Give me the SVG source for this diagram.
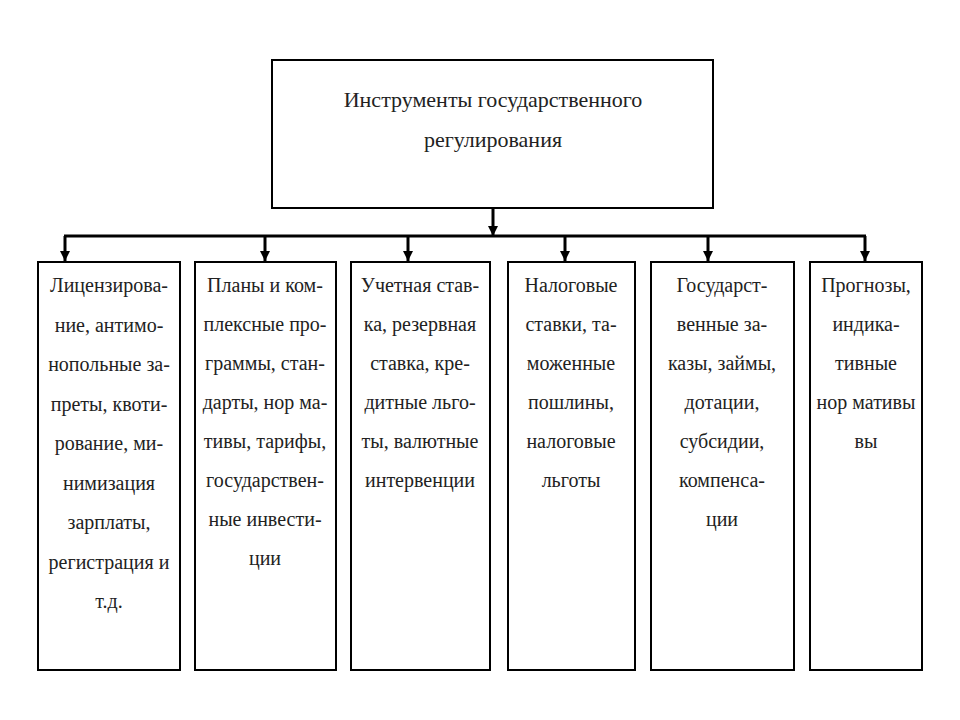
<svg xmlns="http://www.w3.org/2000/svg" width="960" height="720" viewBox="0 0 960 720">
<defs>
<marker id="ah" viewBox="0 0 10 10" refX="10" refY="5" markerWidth="10" markerHeight="10" markerUnits="userSpaceOnUse" orient="auto"><path d="M0,0 L10,5 L0,10 z" fill="#000"/></marker>
<style>
.b{fill:#fff;stroke:#000;stroke-width:2}
.t{font-family:"Liberation Serif",serif;font-size:20px;fill:#222;text-anchor:middle}
.h{font-size:22px}
.c{stroke:#000;stroke-width:3;fill:none}
</style>
</defs>
<rect width="960" height="720" fill="#fff"/>
<g id="connectors">
<line class="c" x1="493" y1="208" x2="493" y2="236" marker-end="url(#ah)"/>
<line class="c" x1="64" y1="236" x2="866" y2="236"/>
<line class="c" x1="65" y1="236" x2="65" y2="261" marker-end="url(#ah)"/>
<line class="c" x1="265" y1="236" x2="265" y2="261" marker-end="url(#ah)"/>
<line class="c" x1="408" y1="236" x2="408" y2="261" marker-end="url(#ah)"/>
<line class="c" x1="565" y1="236" x2="565" y2="261" marker-end="url(#ah)"/>
<line class="c" x1="708" y1="236" x2="708" y2="261" marker-end="url(#ah)"/>
<line class="c" x1="865" y1="236" x2="865" y2="261" marker-end="url(#ah)"/>
</g>
<g id="root"><rect class="b" x="272" y="60" width="441" height="148"/>
<text class="t h" x="493" y="107">Инструменты государственного</text>
<text class="t h" x="493" y="147">регулирования</text></g>
<g id="n1"><rect class="b" x="38" y="262" width="142" height="408"/>
<text class="t"><tspan x="109" y="292">Лицензирова-</tspan><tspan x="109" y="332">ние, антимо-</tspan><tspan x="109" y="371">нопольные за-</tspan><tspan x="109" y="411">преты, квоти-</tspan><tspan x="109" y="450">рование, ми-</tspan><tspan x="109" y="490">нимизация</tspan><tspan x="109" y="529">зарплаты,</tspan><tspan x="109" y="569">регистрация и</tspan><tspan x="109" y="608">т.д.</tspan></text></g>
<g id="n2"><rect class="b" x="195" y="262" width="141" height="408"/>
<text class="t"><tspan x="265" y="292">Планы и ком-</tspan><tspan x="265" y="331">плексные про-</tspan><tspan x="265" y="370">граммы, стан-</tspan><tspan x="265" y="409">дарты, нор ма-</tspan><tspan x="265" y="448">тивы, тарифы,</tspan><tspan x="265" y="487">государствен-</tspan><tspan x="265" y="526">ные инвести-</tspan><tspan x="265" y="565">ции</tspan></text></g>
<g id="n3"><rect class="b" x="351" y="262" width="139" height="408"/>
<text class="t"><tspan x="420" y="292">Учетная став-</tspan><tspan x="420" y="331">ка, резервная</tspan><tspan x="420" y="370">ставка, кре-</tspan><tspan x="420" y="409">дитные льго-</tspan><tspan x="420" y="448">ты, валютные</tspan><tspan x="420" y="487">интервенции</tspan></text></g>
<g id="n4"><rect class="b" x="508" y="262" width="127" height="408"/>
<text class="t"><tspan x="571" y="292">Налоговые</tspan><tspan x="571" y="331">ставки, та-</tspan><tspan x="571" y="370">моженные</tspan><tspan x="571" y="409">пошлины,</tspan><tspan x="571" y="448">налоговые</tspan><tspan x="571" y="487">льготы</tspan></text></g>
<g id="n5"><rect class="b" x="651" y="262" width="143" height="408"/>
<text class="t"><tspan x="722" y="292">Государст-</tspan><tspan x="722" y="331">венные за-</tspan><tspan x="722" y="370">казы, займы,</tspan><tspan x="722" y="409">дотации,</tspan><tspan x="722" y="448">субсидии,</tspan><tspan x="722" y="487">компенса-</tspan><tspan x="722" y="526">ции</tspan></text></g>
<g id="n6"><rect class="b" x="810" y="262" width="112" height="408"/>
<text class="t"><tspan x="866" y="292">Прогнозы,</tspan><tspan x="866" y="331">индика-</tspan><tspan x="866" y="370">тивные</tspan><tspan x="866" y="409">нор мативы</tspan><tspan x="866" y="448">вы</tspan></text></g>
</svg>
